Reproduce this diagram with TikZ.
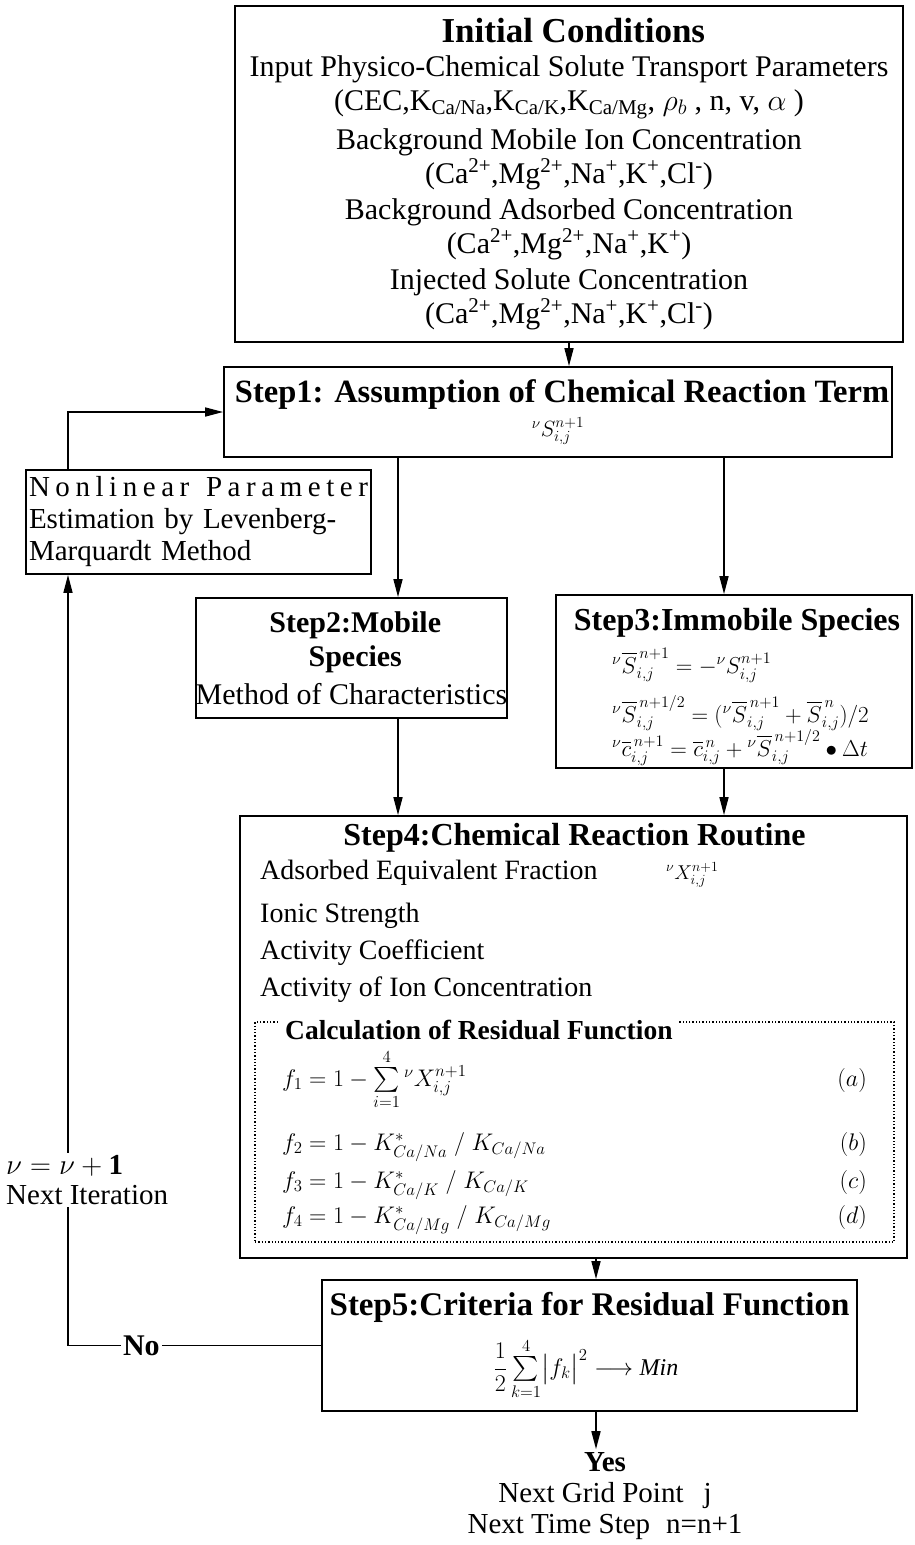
\RequirePackage{fix-cm}
\documentclass[tikz,border=0pt]{standalone}
\usepackage{amsmath}
\usepackage{fontspec}
\setmainfont{Liberation Serif}
\usetikzlibrary{arrows.meta}

\newcommand{\bodyfont}{\fontsize{30}{34}\selectfont}
\newcommand{\headfont}[1]{\fontsize{#1}{34}\selectfont\bfseries}
\newcommand{\eqfont}[1]{\fontsize{#1}{30}\selectfont}

\begin{document}
\begin{tikzpicture}[x=1pt, y=-1pt, font=\bodyfont,
    box/.style={draw, line width=1.8pt, inner sep=0pt},
    txt/.style={inner sep=0pt}]
  \useasboundingbox (0,0) rectangle (914,1545);
  \coordinate (c2) at (398,0); \coordinate (c3) at (724,0);
  \coordinate (c5) at (596,0); \coordinate (fb) at (68,0);

  \begin{scope}[every node/.style={box}]
    \node[minimum width=668pt, minimum height=336pt, align=center] (ic)
    at (569,174) {{\headfont{35} Initial Conditions}\\
      Input Physico-Chemical Solute Transport Parameters\\
      (CEC,K\textsubscript{Ca/Na},K\textsubscript{Ca/K},K\textsubscript{Ca/Mg},
      $\rho_b$ , n, v, $\alpha$ )\\[5pt]
      Background Mobile Ion Concentration\\
      (Ca\textsuperscript{2+},Mg\textsuperscript{2+},Na\textsuperscript{+},K\textsuperscript{+},Cl\textsuperscript{-})\\[2pt]
      Background Adsorbed Concentration\\
      (Ca\textsuperscript{2+},Mg\textsuperscript{2+},Na\textsuperscript{+},K\textsuperscript{+})\\[2pt]
      Injected Solute Concentration\\
      (Ca\textsuperscript{2+},Mg\textsuperscript{2+},Na\textsuperscript{+},K\textsuperscript{+},Cl\textsuperscript{-})};
    \node[minimum width=668pt, minimum height=90pt, align=center] (step1)
    at (558,412) {{\headfont{32.5} Step1: Assumption of Chemical Reaction Term}\\
      {\eqfont{22}${}^{\nu}S^{n+1}_{i,j}$}};
    \node[minimum width=345pt, minimum height=104pt, inner xsep=3pt,
    text width=339pt, align=left, font=\fontsize{29}{32}\selectfont] (nonlin)
    at (198.5,522) {\makebox[\linewidth][s]{N\hfill o\hfill n\hfill l\hfill
        i\hfill n\hfill e\hfill a\hfill r\hfill\hfill\hfill P\hfill a\hfill
        r\hfill a\hfill m\hfill e\hfill t\hfill e\hfill r}\\
      \makebox[\linewidth][s]{Estimation by Levenberg-}\\
      Marquardt Method};
    \node[minimum width=303pt, minimum height=120pt, align=center] (step2)
    at (351.5,658) {{\headfont{30} Step2:Mobile}\\{\headfont{30} Species}\\[4pt]
      Method of Characteristics};
    \node[minimum width=356pt, minimum height=173pt] (step3) at (734,681.5) {};
    \node[minimum width=667pt, minimum height=442pt] (step4) at (573.5,1037) {};
    \node[minimum width=535pt, minimum height=131pt] (step5) at (589.5,1345.5) {};
  \end{scope}

  % texts inside step3, step4 and step5
  \node[txt, font=\headfont{32}] (s3title) at (737,623) {Step3:Immobile Species};
  \begin{scope}[every node/.style={txt, anchor=base west, font=\eqfont{23}}]
    \node (s3eqa) at (612,673) {${}^{\nu}\overline{S}^{\,n+1}_{i,j}
      =-{}^{\nu}S^{n+1}_{i,j}$};
    \node (s3eqb) at (612,722) {${}^{\nu}\overline{S}^{\,n+1/2}_{i,j}
      =({}^{\nu}\overline{S}^{\,n+1}_{i,j}+\overline{S}^{\,n}_{i,j})/2$};
    \node (s3eqc) at (612,756) {${}^{\nu}\overline{c}^{\,n+1}_{i,j}
      =\overline{c}^{\,n}_{i,j}+{}^{\nu}\overline{S}^{\,n+1/2}_{i,j}\bullet\Delta t$};
  \end{scope}

  \node[txt, font=\headfont{32}] (s4title) at (574.5,838) {Step4:Chemical Reaction Routine};
  \begin{scope}[every node/.style={txt, anchor=base west, font=\fontsize{28}{32}\selectfont}]
    \node (adsorb) at (260,879) {Adsorbed Equivalent Fraction};
    \node[font=\eqfont{20}] (xfrac) at (666,879) {${}^{\nu}X^{n+1}_{i,j}$};
    \node (ionic) at (260,922) {Ionic Strength};
    \node (actcoef) at (260,959) {Activity Coefficient};
    \node (action) at (260,996) {Activity of Ion Concentration};
  \end{scope}

  \node[draw, dotted, line width=1.3pt, minimum width=639pt, minimum height=220pt]
  (resid) at (574.5,1132) {};
  \node[txt, anchor=west, fill=white, inner xsep=5pt, font=\headfont{27.5}]
  (calc) at (280,1030) {Calculation of Residual Function};
  \begin{scope}[every node/.style={txt, anchor=base west, font=\eqfont{24}}]
    \node (fa) at (282,1086) {$f_1 = 1-\sum\limits_{i=1}^{4}{}^{\nu}X^{n+1}_{i,j}$};
    \node (fb2) at (282,1150) {$f_2 = 1-K^{*}_{Ca/Na}\;/\;K_{Ca/Na}$};
    \node (fc) at (282,1188) {$f_3 = 1-K^{*}_{Ca/K}\;/\;K_{Ca/K}$};
    \node (fd) at (282,1223) {$f_4 = 1-K^{*}_{Ca/Mg}\;/\;K_{Ca/Mg}$};
  \end{scope}
  \begin{scope}[every node/.style={txt, anchor=base east, font=\eqfont{24}}]
    \node (la) at (867,1086) {$(a)$}; \node (lb) at (867,1150) {$(b)$};
    \node (lc) at (867,1188) {$(c)$}; \node (ld) at (867,1223) {$(d)$};
  \end{scope}

  \node[txt, font=\headfont{33}] (s5title) at (589.5,1307) {Step5:Criteria for Residual Function};
  \node[txt, font=\eqfont{24}] (s5eq) at (586,1369)
  {$\dfrac{1}{2}\sum\limits_{k=1}^{4}\bigl|f_k\bigr|^{2}\longrightarrow \mathit{Min}$};

  \node[inner sep=3pt, align=center, font=\fontsize{29}{31}\selectfont] (done)
  at (605,1496) {\textbf{Yes}\\Next Grid Point\hspace{20pt}j\\
    Next Time Step\hspace{16pt}n=n+1};

  \begin{scope}[line width=1.6pt, -{Triangle[length=18pt, width=9pt]}]
    \draw (ic.south) -- (ic.south |- step1.north);
    \draw (step1.south -| c2) -- (step2.north -| c2);
    \draw (step1.south -| c3) -- (step3.north -| c3);
    \draw (step2.south -| c2) -- (step4.north -| c2);
    \draw (step3.south -| c3) -- (step4.north -| c3);
    \draw (step4.south -| c5) -- (step5.north -| c5);
    \draw (step5.south -| c5) -- (done.north -| c5);
    \draw (step5.west) -- node[pos=0.71, fill=white, inner sep=2pt,
    font=\bodyfont\bfseries] (no) {No} (step5.west -| fb) -- (fb |- nonlin.south);
    \draw (fb |- nonlin.north) |- (step1.west);
  \end{scope}

  \node[fill=white, align=left, anchor=west, inner sep=2pt,
  font=\fontsize{29}{30}\selectfont] (iter) at (4,1180)
  {$\nu=\nu+\mathbf{1}$\\Next Iteration};
\end{tikzpicture}
\end{document}
